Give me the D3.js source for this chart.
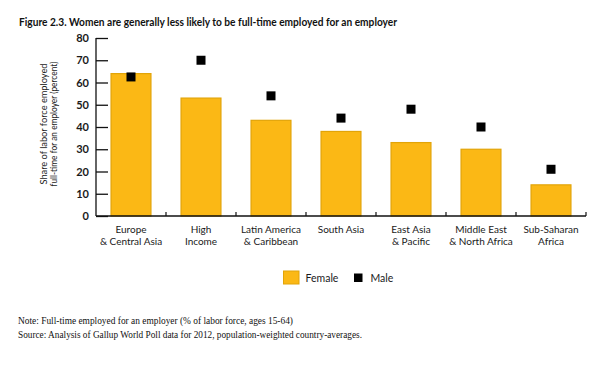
<!DOCTYPE html>
<html><head><meta charset="utf-8">
<script src="https://cdn.jsdelivr.net/npm/d3@7"></script>
<style>body{margin:0;background:#fff}svg{display:block}</style>
</head><body>
<svg id="c" width="594" height="369"></svg>
<script>
const categories = [["Europe","& Central Asia"],["High","Income"],["Latin America","& Caribbean"],["South Asia"],["East Asia","& Pacific"],["Middle East","& North Africa"],["Sub-Saharan","Africa"]];
const female = [64, 53, 43, 38, 33, 30, 14];
const male = [62.5, 70, 54, 44, 48, 40, 21];
const yTicks = [0,10,20,30,40,50,60,70,80];
const keys = categories.map(c => c.join(" "));

const svg = d3.select("#c");
const x = d3.scaleBand().domain(keys).range([96, 586]).paddingInner(0.43).paddingOuter(0.215);
const y = d3.scaleLinear().domain([0, 80]).range([216, 38]);
const txt = "#1a1a1a";
const sans = "Lato";

svg.append("text").attr("x", 19).attr("y", 26).attr("font-family", sans).attr("font-weight", 700)
  .attr("font-size", 11.5).attr("fill", "#111").attr("textLength", 378).attr("lengthAdjust","spacingAndGlyphs")
  .text("Figure 2.3. Women are generally less likely to be full-time employed for an employer");

// y axis
const ya = svg.append("g").attr("transform", "translate(96,0)")
  .call(d3.axisLeft(y).tickValues(yTicks).tickSize(-12).tickPadding(20));
ya.select(".domain").attr("d", `M0,${y(80)}V${y(0)}`).attr("stroke", "#111").attr("stroke-width", 1.3);
ya.selectAll(".tick line").attr("stroke", "#111").attr("stroke-width", 1.3);
ya.selectAll(".tick text").attr("font-family", sans).attr("font-weight", 700).attr("font-size", 11).attr("fill", txt).attr("x", -7);

// bars
svg.append("g").selectAll("rect").data(female).join("rect")
  .attr("x", (d,i) => x(keys[i])).attr("width", x.bandwidth())
  .attr("y", d => y(d)).attr("height", d => y(0) - y(d))
  .attr("fill", "#FBB815").attr("stroke", "#E2A408").attr("stroke-width", 1.2);

// x axis
const step = x.step();
const xa = svg.append("g").attr("transform", `translate(0,${y(0)})`);
xa.append("line").attr("x1", 96).attr("x2", 586).attr("stroke", "#111").attr("stroke-width", 1.3);
const bounds = d3.range(1, keys.length + 1).map(i => x(keys[i-1]) + x.bandwidth() + (step - x.bandwidth())/2);
xa.selectAll("line.t").data(bounds).join("line").attr("class","t")
  .attr("x1", d => d).attr("x2", d => d).attr("y1", 0).attr("y2", -4).attr("stroke", "#111").attr("stroke-width", 1.2);

// male markers
svg.append("g").selectAll("rect").data(male).join("rect")
  .attr("x", (d,i) => x(keys[i]) + x.bandwidth()/2 - 4.5).attr("y", d => y(d) - 4.5)
  .attr("width", 9).attr("height", 9).attr("fill", "#000");

// category labels (one text per line)
const lines = [];
categories.forEach((c, i) => c.forEach((t, j) => lines.push({t, i, j})));
svg.append("g").selectAll("text").data(lines).join("text")
  .attr("x", d => x(keys[d.i]) + x.bandwidth()/2).attr("y", d => 232.5 + d.j * 12)
  .attr("text-anchor", "middle").attr("font-family", sans).attr("font-size", 10).attr("fill", txt).text(d => d.t);

// y title
const yt = svg.append("text").attr("transform", "translate(47,124) rotate(-90)").attr("text-anchor", "middle")
  .attr("font-family", sans).attr("font-size", 9.5).attr("fill", txt);
yt.append("tspan").attr("x", 0).attr("y", 0).attr("textLength", 121).attr("lengthAdjust","spacingAndGlyphs").text("Share of labor force employed");
yt.append("tspan").attr("x", 0).attr("y", 10).attr("textLength", 125).attr("lengthAdjust","spacingAndGlyphs").text("full-time for an employer (percent)");

// legend
const lg = svg.append("g");
lg.append("rect").attr("x", 283.5).attr("y", 271).attr("width", 15.5).attr("height", 13).attr("fill", "#FBB815").attr("stroke", "#E2A408");
lg.append("text").attr("x", 305.5).attr("y", 281.5).attr("font-family", sans).attr("font-size", 10.5).attr("fill", txt).text("Female");
lg.append("rect").attr("x", 354).attr("y", 273.5).attr("width", 8.5).attr("height", 8.5).attr("fill", "#000");
lg.append("text").attr("x", 370.5).attr("y", 281.5).attr("font-family", sans).attr("font-size", 10.5).attr("fill", txt).text("Male");

// notes
svg.append("text").attr("x", 18).attr("y", 323.5).attr("font-family", "Liberation Serif").attr("font-size", 9.5).attr("fill", "#111")
  .attr("textLength", 275).attr("lengthAdjust","spacingAndGlyphs").text("Note: Full-time employed for an employer (% of labor force, ages 15-64)");
svg.append("text").attr("x", 18).attr("y", 337.5).attr("font-family", "Liberation Serif").attr("font-size", 9.5).attr("fill", "#111")
  .attr("textLength", 344).attr("lengthAdjust","spacingAndGlyphs").text("Source: Analysis of Gallup World Poll data for 2012, population-weighted country-averages.");
</script>
</body></html>
